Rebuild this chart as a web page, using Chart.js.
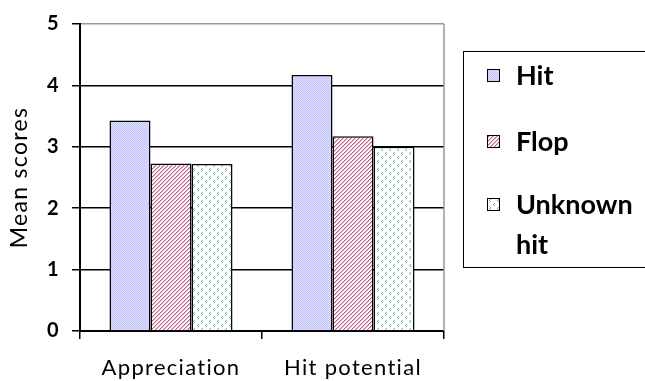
<!DOCTYPE html>
<html>
<head>
<meta charset="utf-8">
<script src="https://cdn.jsdelivr.net/npm/chart.js@4/dist/chart.umd.min.js"></script>
<style>
  html, body { margin: 0; padding: 0; background: #fff; }
  #wrap { position: relative; width: 645px; height: 381px; overflow: hidden; }
  #legend {
    position: absolute; left: 463px; top: 51px; width: 200px; height: 217px;
    border: 1.5px solid #000; box-sizing: border-box;
    font: bold 27px Lato, sans-serif; color: #000;
  }
  .item { position: absolute; left: 23px; }
  .item canvas { position: absolute; left: 0; top: 14px; border: 1px solid #000; }
  .item span { position: absolute; left: 29px; top: 0; width: 130px; line-height: 40px; }
</style>
</head>
<body>
<div id="wrap">
  <canvas id="myChart" width="645" height="381"></canvas>
  <div id="legend"></div>
</div>
<script>
const categories = ["Appreciation", "Hit potential"];
const seriesNames = ["Hit", "Flop", "Unknown hit"];
const hitValues = [3.43, 4.17];
const flopValues = [2.73, 3.17];
const unknownValues = [2.72, 3.0];
const yTicks = [0, 1, 2, 3, 4, 5];

// small pixel tiles for the hatch fills
function makeTile(kind) {
  const c = document.createElement("canvas");
  c.width = 8;
  c.height = 8;
  const g = c.getContext("2d");
  const img = g.createImageData(8, 8);
  const marks = { "2,0": 1, "1,1": 1, "2,2": 1, "6,4": 1, "5,5": 1, "6,6": 1 };
  for (let y = 0; y < 8; y++) {
    for (let x = 0; x < 8; x++) {
      let col = [255, 255, 255];
      if (kind === "hit") {
        col = (x + y) % 2 === 0 ? [196, 196, 250] : [222, 222, 255];
      } else if (kind === "flop") {
        const d = (x + y) % 4;
        if (d === 0) col = [186, 96, 138];
        else if (d === 1) col = [230, 182, 206];
      } else {
        const m = marks[x + "," + y];
        if (m === 1) col = [96, 184, 136];
      }
      const i = (y * 8 + x) * 4;
      img.data[i] = col[0];
      img.data[i + 1] = col[1];
      img.data[i + 2] = col[2];
      img.data[i + 3] = 255;
    }
  }
  g.putImageData(img, 0, 0);
  return c;
}

const tiles = [makeTile("hit"), makeTile("flop"), makeTile("unknown")];
const ctx = document.getElementById("myChart").getContext("2d");
const fills = tiles.map((t) => ctx.createPattern(t, "repeat"));

const frame = {
  id: "frame",
  beforeDraw(chart) {
    chart.ctx.letterSpacing = "1.3px";
  },
  beforeDatasetsDraw(chart) {
    chart.ctx.letterSpacing = "0px";
  },
  afterDraw(chart) {
    const { ctx, chartArea } = chart;
    ctx.save();
    ctx.strokeStyle = "#999";
    ctx.lineWidth = 1.5;
    ctx.beginPath();
    ctx.moveTo(chartArea.right, chartArea.top);
    ctx.lineTo(chartArea.right, chartArea.bottom);
    ctx.stroke();
    ctx.restore();
  },
};

const seriesValues = [hitValues, flopValues, unknownValues];

new Chart(ctx, {
  type: "bar",
  data: {
    labels: categories,
    datasets: seriesNames.map((name, i) => ({
      label: name,
      data: seriesValues[i],
      backgroundColor: fills[i],
      borderColor: "#000",
      borderWidth: 1.5,
      categoryPercentage: 0.676,
      barPercentage: 1,
    })),
  },
  options: {
    responsive: false,
    animation: false,
    events: [],
    layout: { padding: { top: 19, right: 201, left: 0, bottom: 0 } },
    plugins: { legend: { display: false }, tooltip: { enabled: false } },
    scales: {
      x: {
        afterFit: (s) => { s.height = 50; },
        grid: { drawOnChartArea: false, drawTicks: true, tickLength: 8, color: "#000", lineWidth: 1.5 },
        border: { color: "#000", width: 2 },
        ticks: { color: "#000", padding: 16, font: { family: "Lato", size: 22 } },
      },
      y: {
        min: 0,
        max: 5,
        afterFit: (s) => { s.width = 80; },
        afterBuildTicks: (s) => { s.ticks = yTicks.map((v) => ({ value: v })); },
        grid: {
          color: (c) => (c.tick && c.tick.value === 5 ? "#999" : "#000"),
          tickColor: "#000",
          lineWidth: 1.5,
          tickLength: 8,
        },
        border: { color: "#000", width: 2 },
        ticks: { color: "#000", padding: 12, font: { family: "Lato", size: 20, weight: "bold" } },
        title: {
          display: true,
          text: "Mean scores",
          color: "#000",
          padding: { top: 6, bottom: 0 },
          font: { family: "Lato", size: 23 },
        },
      },
    },
  },
  plugins: [frame],
});

// legend box
const legend = document.getElementById("legend");
const rowTops = [3, 69, 132];
seriesNames.forEach((name, i) => {
  const item = document.createElement("div");
  item.className = "item";
  item.style.top = rowTops[i] + "px";
  const sw = document.createElement("canvas");
  sw.width = 11;
  sw.height = 11;
  const sctx = sw.getContext("2d");
  sctx.fillStyle = sctx.createPattern(tiles[i], "repeat");
  sctx.fillRect(0, 0, 11, 11);
  const txt = document.createElement("span");
  txt.textContent = name;
  item.appendChild(sw);
  item.appendChild(txt);
  legend.appendChild(item);
});
</script>
</body>
</html>
